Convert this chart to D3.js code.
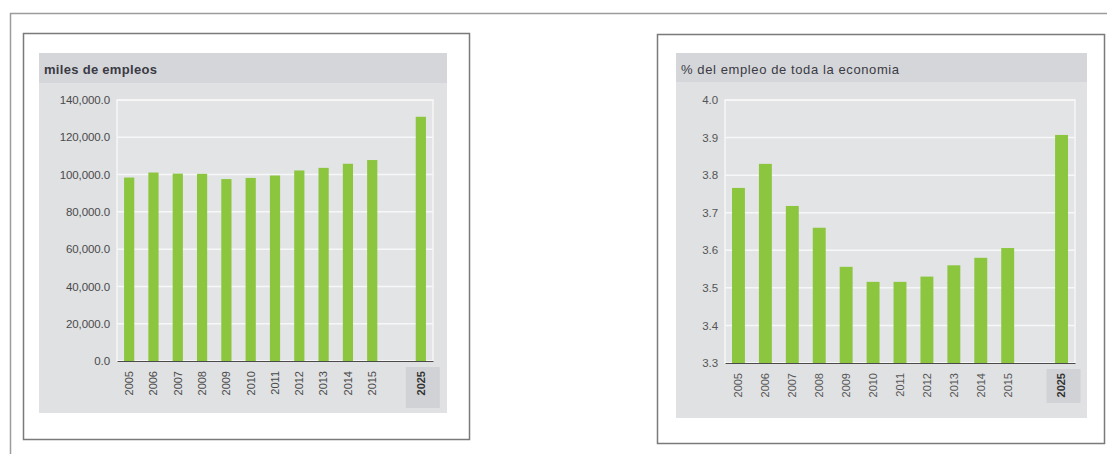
<!DOCTYPE html>
<html>
<head>
<meta charset="utf-8">
<script src="https://cdn.jsdelivr.net/npm/d3@7"></script>
<style>
  body { margin: 0; background: #fff; }
  svg { display: block; font-family: "Liberation Sans", Arial, sans-serif; }
</style>
</head>
<body>
<div id="chart"></div>
<script>
const years = ["2005", "2006", "2007", "2008", "2009", "2010", "2011", "2012", "2013", "2014", "2015", "2025"];
const empleos = [98400, 101100, 100500, 100400, 97600, 98200, 99500, 102200, 103600, 105800, 107800, 131000];
const porcentaje = [3.766, 3.83, 3.718, 3.66, 3.556, 3.516, 3.516, 3.53, 3.56, 3.58, 3.606, 3.907];
const empleosTicks = [0, 20000, 40000, 60000, 80000, 100000, 120000, 140000];
const porcentajeTicks = [3.3, 3.4, 3.5, 3.6, 3.7, 3.8, 3.9, 4.0];
const gapKey = "gap";

const svg = d3.select("#chart").append("svg")
    .attr("width", 1107)
    .attr("height", 454);

// outer frame (top + left only)
svg.append("path")
    .attr("d", "M10.5,454 V13.5 H1107")
    .attr("fill", "none")
    .attr("stroke", "#9c9c9c")
    .attr("stroke-width", 1.5);

function drawPanel(o) {
    const g = svg.append("g");

    g.append("rect")
        .attr("x", o.box.x + 0.5).attr("y", o.box.y + 0.5)
        .attr("width", o.box.w).attr("height", o.box.h)
        .attr("fill", "#fff")
        .attr("stroke", "#7a7a7a")
        .attr("stroke-width", 1.5);

    g.append("rect")
        .attr("x", o.bg.x).attr("y", o.bg.y)
        .attr("width", o.bg.w).attr("height", o.bg.h)
        .attr("fill", "#e0e1e3");

    g.append("rect")
        .attr("x", o.bg.x).attr("y", o.bg.y)
        .attr("width", o.bg.w).attr("height", o.band)
        .attr("fill", "#d5d6d9");

    g.append("text")
        .attr("x", o.bg.x + 5)
        .attr("y", o.bg.y + 21)
        .attr("font-size", 13)
        .attr("font-weight", o.titleWeight)
        .attr("letter-spacing", o.titleSpacing)
        .attr("fill", "#3a3a44")
        .text(o.title);

    const domain = years.slice(0, -1).concat([gapKey, years[years.length - 1]]);
    const x = d3.scaleBand()
        .domain(domain)
        .range([o.left, o.right])
        .paddingInner(o.pad)
        .paddingOuter(o.pad / 2);

    const y = d3.scaleLinear()
        .domain(d3.extent(o.ticks))
        .range([o.bottom, o.top]);

    // plot area
    g.append("rect")
        .attr("x", o.left).attr("y", o.top)
        .attr("width", o.right - o.left).attr("height", o.bottom - o.top)
        .attr("fill", "#e3e4e6")
        .attr("stroke", "#f6f6f7")
        .attr("stroke-width", 1.5);

    g.append("g")
        .selectAll("line")
        .data(o.ticks)
        .join("line")
        .attr("x1", o.left).attr("x2", o.right)
        .attr("y1", d => y(d)).attr("y2", d => y(d))
        .attr("stroke", "#f7f7f8")
        .attr("stroke-width", 1.5);

    // highlight behind last year label
    const last = years[years.length - 1];
    g.append("rect")
        .attr("x", x(last) + x.bandwidth() / 2 - 15)
        .attr("y", o.bottom + 6)
        .attr("width", 34)
        .attr("height", o.hlH)
        .attr("fill", "#d1d2d5");

    g.append("g")
        .selectAll("rect")
        .data(years)
        .join("rect")
        .attr("x", d => x(d))
        .attr("y", (d, i) => y(o.values[i]))
        .attr("width", x.bandwidth())
        .attr("height", (d, i) => o.bottom - y(o.values[i]))
        .attr("fill", "#8cc63f");

    const yAxis = g.append("g")
        .attr("transform", `translate(${o.left},0)`)
        .call(d3.axisLeft(y).tickValues(o.ticks).tickFormat(o.fmt).tickSize(0).tickPadding(7));
    yAxis.select(".domain").remove();
    yAxis.selectAll("text")
        .attr("font-size", 11.5)
        .attr("font-family", "Liberation Sans, Arial, sans-serif")
        .attr("letter-spacing", -0.1)
        .attr("fill", o.tickColor);

    const xAxis = g.append("g")
        .attr("transform", `translate(0,${o.bottom})`)
        .call(d3.axisBottom(x).tickValues(years).tickSize(0));
    xAxis.select(".domain")
        .attr("stroke", "#4a4a4a")
        .attr("stroke-width", 1.2);
    xAxis.selectAll("text")
        .attr("transform", "rotate(-90)")
        .attr("x", -10)
        .attr("y", 0)
        .attr("dy", "0.35em")
        .attr("text-anchor", "end")
        .attr("font-size", 11)
        .attr("font-family", "Liberation Sans, Arial, sans-serif")
        .attr("font-weight", d => d === last ? "bold" : "normal")
        .attr("fill", d => d === last ? "#333" : o.tickColor);
}

drawPanel({
    box: { x: 23, y: 33, w: 446, h: 406 },
    bg: { x: 39, y: 53, w: 408, h: 360 },
    band: 30,
    title: "miles de empleos",
    titleWeight: "bold",
    titleSpacing: 0.3,
    left: 117, right: 433, top: 100, bottom: 361,
    pad: 0.58,
    values: empleos,
    ticks: empleosTicks,
    fmt: d3.format(",.1f"),
    tickColor: "#4a4a4a",
    hlH: 41
});

drawPanel({
    box: { x: 657, y: 34, w: 447, h: 409 },
    bg: { x: 676, y: 53, w: 411, h: 365 },
    band: 29,
    title: "% del empleo de toda la economia",
    titleWeight: "normal",
    titleSpacing: 0.6,
    left: 725, right: 1075, top: 100, bottom: 363,
    pad: 0.52,
    values: porcentaje,
    ticks: porcentajeTicks,
    fmt: d3.format(".1f"),
    tickColor: "#555",
    hlH: 34
});
</script>
</body>
</html>
